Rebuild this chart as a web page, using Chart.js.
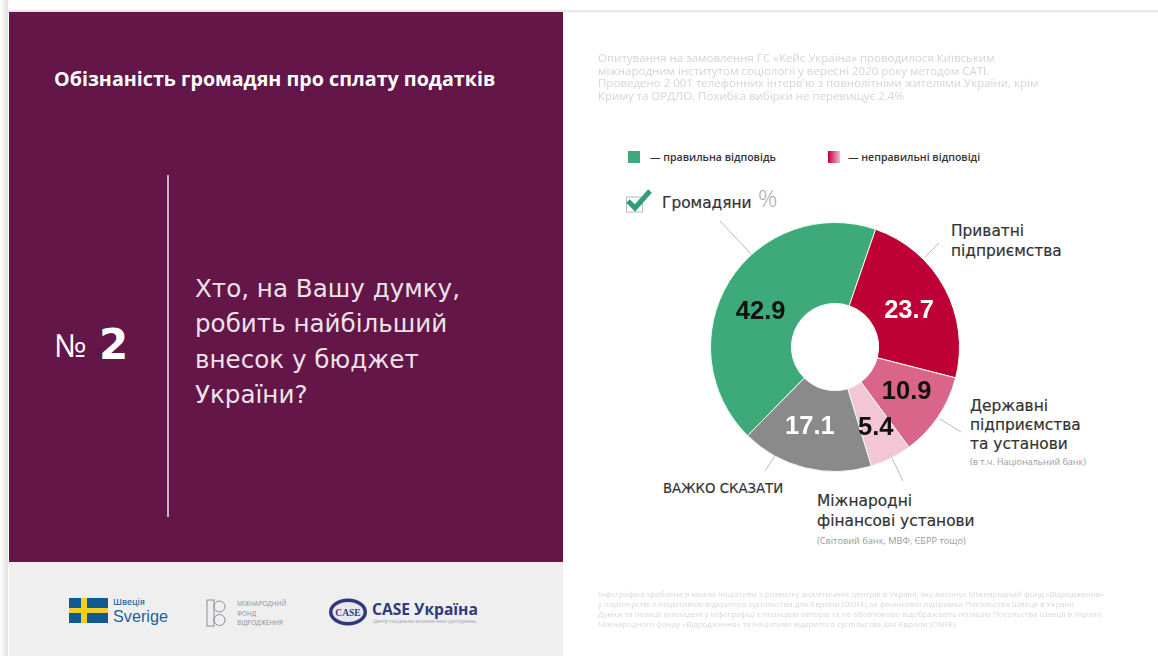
<!DOCTYPE html>
<html lang="uk"><head><meta charset="utf-8">
<script src="https://cdn.jsdelivr.net/npm/chart.js@4"></script>
<style>
html,body{margin:0;padding:0;background:#fff;width:1158px;height:656px;overflow:hidden;font-family:"Open Sans",sans-serif}
.t{position:absolute;white-space:pre;color:#222}
.lab{-webkit-text-stroke:.2px #333}
#chartBox{position:absolute;left:695px;top:207px;width:280px;height:280px}
</style></head><body>
<div style="position:absolute;left:0;top:0;width:8px;height:656px;background:linear-gradient(90deg,#fff,#e0e0e0)"></div>
<div style="position:absolute;left:8px;top:9px;width:1150px;height:3px;background:linear-gradient(180deg,#fff,#dedede)"></div>
<div style="position:absolute;left:9px;top:12px;width:554px;height:550px;background:#631647"></div>
<div style="position:absolute;left:9px;top:562px;width:554px;height:94px;background:#efefef"></div>
<div style="position:absolute;left:167px;top:175px;width:1.5px;height:342px;background:#c9b3c2"></div>
<div class="t" style="left:54px;top:65px;font:700 19.7px 'Open Sans';color:#fff">Обізнаність громадян про сплату податків</div>
<div class="t" style="left:54px;top:323px;font:400 32px 'Open Sans';color:#fff">№</div>
<div class="t" style="left:99px;top:320px;font:700 42px 'DejaVu Sans';color:#fff">2</div>
<div class="t" style="left:195px;top:271px;font:400 24.6px/35.3px 'DejaVu Sans';color:#ece3e9">Хто, на Вашу думку,
робить найбільший
внесок у бюджет
України?</div>

<div class="t" style="left:598px;top:52px;font:400 11.5px/12.7px 'Open Sans';color:#d5d5d5;filter:blur(.4px)">Опитування на замовлення ГС «Кейс Україна» проводилося Київським
міжнародним інститутом соціології у вересні 2020 року методом CATI.
Проведено 2 001 телефонних інтерв'ю з повнолітніми жителями України, крім
Криму та ОРДЛО. Похибка вибірки не перевищує 2.4%</div>

<div style="position:absolute;left:628px;top:151px;width:12px;height:12px;background:#3eaa7c"></div>
<div class="t" style="left:650px;top:150px;font:600 10.55px 'Open Sans';color:#333">— правильна відповідь</div>
<div style="position:absolute;left:828px;top:151px;width:12px;height:12px;background:linear-gradient(90deg,#bd0036,#eebccb)"></div>
<div class="t" style="left:848px;top:150px;font:600 10.55px 'Open Sans';color:#333">— неправильні відповіді</div>

<svg style="position:absolute;left:0;top:0" width="1158" height="656">
<rect x="626.5" y="197" width="16" height="15" fill="none" stroke="#bbb" stroke-width="1"/>
<path d="M628 201 L635 208 L650 191" fill="none" stroke="#2f9e78" stroke-width="5"/>
<g stroke="#bbb" stroke-width="1" fill="none">
<line x1="720" y1="221" x2="752" y2="255"/>
<line x1="925" y1="257" x2="939" y2="243"/>
<line x1="940" y1="419" x2="961" y2="432"/>
<line x1="892" y1="458" x2="903" y2="481"/>
<line x1="775" y1="456" x2="765" y2="471"/>
</g>
<g fill="none" stroke="#8c8c9c" stroke-width="1">
<rect x="207" y="600" width="7" height="26"/><circle cx="219.5" cy="606.5" r="5.5"/><circle cx="219.5" cy="620" r="5.5"/>
</g>
</svg>

<div class="t lab" style="left:662px;top:194px;font:400 15.4px 'DejaVu Sans';color:#333">Громадяни</div>
<div class="t" style="left:758px;top:181px;font:300 24px 'Open Sans';color:#aaa">%</div>
<div class="t lab" style="left:951px;top:222px;font:400 15.4px/19.5px 'DejaVu Sans';color:#333">Приватні
підприємства</div>
<div class="t lab" style="left:970px;top:397px;font:400 15.4px/19px 'DejaVu Sans';color:#333">Державні
підприємства
та установи</div>
<div class="t" style="left:970px;top:455px;font:400 9px 'Open Sans';color:#999">(в т.ч. Національний банк)</div>
<div class="t lab" style="left:817px;top:491px;font:400 15.4px/20px 'DejaVu Sans';color:#333">Міжнародні
фінансові установи</div>
<div class="t" style="left:817px;top:534px;font:400 9.2px 'Open Sans';color:#999">(Світовий банк, МВФ, ЄБРР тощо)</div>
<div class="t lab" style="left:663px;top:481px;font:400 13.3px 'DejaVu Sans';color:#333">ВАЖКО СКАЗАТИ</div>

<div id="chartBox"><canvas id="c"></canvas></div>

<div style="position:absolute;left:69px;top:598px;width:39px;height:25px;background:#0f5a94"></div>
<div style="position:absolute;left:81px;top:598px;width:6px;height:25px;background:#f3cf25"></div>
<div style="position:absolute;left:69px;top:608px;width:39px;height:5px;background:#f3cf25"></div>
<div class="t" style="left:113px;top:596px;font:600 8.5px 'Open Sans';color:#2b6aa0">Швеція</div>
<div class="t" style="left:113px;top:607px;font:400 16.2px 'Liberation Sans';color:#1d5f96">Sverige</div>
<div class="t" style="left:237px;top:599px;font:400 6.4px/9.5px 'Open Sans';color:#8d8d9c">МІЖНАРОДНИЙ
ФОНД
ВІДРОДЖЕННЯ</div>
<svg style="position:absolute;left:327px;top:596px" width="42" height="32">
<ellipse cx="21" cy="16" rx="19" ry="13.5" fill="#2e3a7c"/>
<ellipse cx="21" cy="16" rx="15.5" ry="10" fill="#e8e8ee"/>
<text x="21" y="19.5" text-anchor="middle" font-family="Liberation Serif" font-weight="700" font-size="9.5" fill="#2e3a7c">CASE</text>
</svg>
<div class="t" style="left:372px;top:598px;font:700 15.6px 'Open Sans';color:#2e3a7c">CASE Україна</div>
<div class="t" style="left:373px;top:618px;font:400 5px 'Open Sans';color:#9a9aae">Центр соціально-економічних досліджень</div>

<div class="t" style="left:598px;top:589px;font:400 7.9px/10.1px 'Open Sans';color:#d8d8d8;filter:blur(.5px)">Інфографіка зроблена в межах Ініціативи з розвитку аналітичних центрів в Україні, яку виконує Міжнародний фонд «Відродження»
у партнерстві з Ініціативою відкритого суспільства для Європи (OSIFE) за фінансової підтримки Посольства Швеції в Україні.
Думки та позиції викладені у інфографіці є позицією авторів та не обов'язково відображають позицію Посольства Швеції в Україні,
Міжнародного фонду «Відродження» та Ініціативи відкритого суспільства для Європи (OSIFE).</div>

<script>
const categories = ["Громадяни","Приватні підприємства","Державні підприємства та установи","Міжнародні фінансові установи","ВАЖКО СКАЗАТИ"];
const shareValues = [42.9,23.7,10.9,5.4,17.1];
const sliceColors = ["#3eaa7c","#bd0036","#d9658a","#f2c6d5","#8a8a8a"];
const labelColors = ["#111","#fff","#111","#111","#fff"];
const labelNudgeX = [-3,0,2,3,-5];
const labelNudgeY = [9,4,-2,6,-2];

const sliceLabels = {
  id:'sliceLabels',
  afterDatasetsDraw(chart){
    const {ctx} = chart;
    chart.getDatasetMeta(0).data.forEach((arc,i)=>{
      const p = arc.tooltipPosition();
      ctx.save();
      ctx.font = '700 25.5px "Liberation Sans"';
      ctx.fillStyle = labelColors[i];
      ctx.textAlign = 'center';
      ctx.textBaseline = 'middle';
      ctx.fillText(shareValues[i].toFixed(1), p.x + labelNudgeX[i], p.y + labelNudgeY[i]);
      ctx.restore();
    });
  }
};
new Chart(document.getElementById('c'),{
  type:'doughnut',
  data:{labels:categories,datasets:[{data:shareValues,backgroundColor:sliceColors,borderColor:'#efe',borderWidth:1}]},
  options:{
    responsive:true,maintainAspectRatio:false,animation:false,
    rotation:224.6,cutout:'35%',
    layout:{padding:15},
    plugins:{legend:{display:false},tooltip:{enabled:false}}
  },
  plugins:[sliceLabels]
});
</script>
</body></html>
